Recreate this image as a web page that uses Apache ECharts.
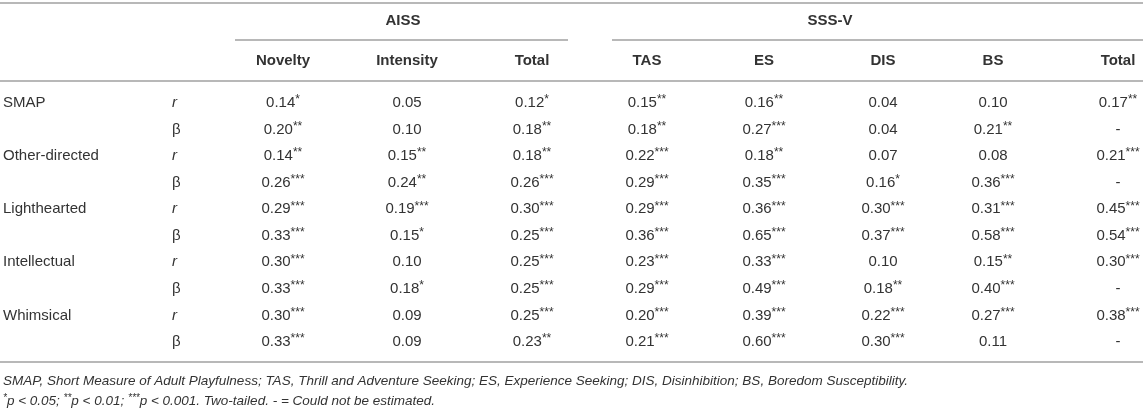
<!DOCTYPE html>
<html>
<head>
<meta charset="utf-8">
<script src="https://cdn.jsdelivr.net/npm/echarts@6/dist/echarts.min.js"></script>
<style>
  html, body { margin: 0; padding: 0; background: #fff; }
  #main { width: 1143px; height: 410px; }
</style>
</head>
<body>
<div id="main"></div>
<script>
// table headers
var groups = ['AISS', 'SSS-V'];
var columns = ['Novelty', 'Intensity', 'Total', 'TAS', 'ES', 'DIS', 'BS', 'Total'];
var scales = ['SMAP', 'Other-directed', 'Lighthearted', 'Intellectual', 'Whimsical'];
var stats = ['r', 'β'];

// coefficients, one array per row ("-" = could not be estimated)
var smapR = ['0.14*', '0.05', '0.12*', '0.15**', '0.16**', '0.04', '0.10', '0.17**'];
var smapB = ['0.20**', '0.10', '0.18**', '0.18**', '0.27***', '0.04', '0.21**', '-'];
var otherR = ['0.14**', '0.15**', '0.18**', '0.22***', '0.18**', '0.07', '0.08', '0.21***'];
var otherB = ['0.26***', '0.24**', '0.26***', '0.29***', '0.35***', '0.16*', '0.36***', '-'];
var lightR = ['0.29***', '0.19***', '0.30***', '0.29***', '0.36***', '0.30***', '0.31***', '0.45***'];
var lightB = ['0.33***', '0.15*', '0.25***', '0.36***', '0.65***', '0.37***', '0.58***', '0.54***'];
var intelR = ['0.30***', '0.10', '0.25***', '0.23***', '0.33***', '0.10', '0.15**', '0.30***'];
var intelB = ['0.33***', '0.18*', '0.25***', '0.29***', '0.49***', '0.18**', '0.40***', '-'];
var whimR = ['0.30***', '0.09', '0.25***', '0.20***', '0.39***', '0.22***', '0.27***', '0.38***'];
var whimB = ['0.33***', '0.09', '0.23**', '0.21***', '0.60***', '0.30***', '0.11', '-'];
var rows = [smapR, smapB, otherR, otherB, lightR, lightB, intelR, intelB, whimR, whimB];

var note1 = 'SMAP, Short Measure of Adult Playfulness; TAS, Thrill and Adventure Seeking; ES, Experience Seeking; DIS, Disinhibition; BS, Boredom Susceptibility.';
var note2 = ['*', 'p < 0.05; ', '**', 'p < 0.01; ', '***', 'p < 0.001. Two-tailed. - = Could not be estimated.'];

// layout, in page pixels
var W = 1143, H = 410;
var colX = [283, 407, 532, 647, 764, 883, 993, 1118];
var groupX = [403, 830];
var groupLine = [[235, 568], [612, 1143]];
var statX = 172, labelX = 3;
var rowY0 = 103, rowStep = 26.55;

var TXT = '#333';
var LINE = '#b8b8b8';
var FONT = '"Liberation Sans", Arial, sans-serif';

function rich(v) {
  var m = v.match(/^([^*]*)(\**)$/);
  return '{n|' + m[1] + '}' + (m[2] ? '{s|' + m[2] + '}' : '');
}

var richStyle = {
  n: { fontSize: 15, fontFamily: FONT, fill: TXT, lineHeight: 18, verticalAlign: 'middle' },
  s: { fontSize: 12, fontFamily: FONT, fill: TXT, lineHeight: 18, verticalAlign: 'top', padding: [0, 0, 7, 0] },
  i: { fontSize: 13.5, fontFamily: FONT, fontStyle: 'italic', fill: TXT, lineHeight: 16 },
  is: { fontSize: 10, fontFamily: FONT, fontStyle: 'italic', fill: TXT, lineHeight: 16, verticalAlign: 'top', padding: [0, 0, 6, 0] }
};

// all text cells
var cells = [];
groups.forEach(function (g, i) {
  cells.push({ x: groupX[i], y: 21, text: g, align: 'center', weight: 'bold' });
});
columns.forEach(function (c, i) {
  cells.push({ x: colX[i], y: 61, text: c, align: 'center', weight: 'bold' });
});
rows.forEach(function (r, ri) {
  var y = rowY0 + ri * rowStep;
  if (ri % 2 === 0) cells.push({ x: labelX, y: y, text: scales[ri / 2], align: 'left' });
  var st = stats[ri % 2];
  cells.push({ x: statX, y: y, text: st, align: 'left', italic: st === 'r' });
  r.forEach(function (v, ci) {
    cells.push({ x: colX[ci], y: y, rich: rich(v), align: 'center' });
  });
});
cells.push({ x: labelX, y: 381, rich: '{i|' + note1 + '}', align: 'left' });
cells.push({
  x: labelX, y: 401, align: 'left',
  rich: note2.map(function (t, i) { return (i % 2 ? '{i|' : '{is|') + t + '}'; }).join('')
});

// horizontal rules: [x1, x2, y]
var rules = [[0, W, 3], [groupLine[0][0], groupLine[0][1], 40], [groupLine[1][0], groupLine[1][1], 40], [0, W, 81], [0, W, 362]];

var chart = echarts.init(document.getElementById('main'));
chart.setOption({
  animation: false,
  grid: { left: 0, right: 0, top: 0, bottom: 0 },
  xAxis: { type: 'value', min: 0, max: W, show: false },
  yAxis: { type: 'value', min: 0, max: H, inverse: true, show: false },
  series: [
    {
      type: 'custom',
      data: rules,
      renderItem: function (params, api) {
        var a = api.coord([api.value(0), api.value(2)]);
        var b = api.coord([api.value(1), api.value(2)]);
        return { type: 'line', shape: { x1: a[0], y1: a[1], x2: b[0], y2: b[1] }, style: { stroke: LINE, lineWidth: 2 } };
      }
    },
    {
      type: 'custom',
      data: cells.map(function (c) { return [c.x, c.y]; }),
      renderItem: function (params, api) {
        var c = cells[params.dataIndex];
        var p = api.coord([api.value(0), api.value(1)]);
        var style = { align: c.align, verticalAlign: 'middle', fill: TXT };
        if (c.rich) {
          style.text = c.rich;
          style.rich = richStyle;
        } else {
          style.text = c.text;
          style.fontSize = 15;
          style.fontFamily = FONT;
          style.fontWeight = c.weight || 'normal';
          style.fontStyle = c.italic ? 'italic' : 'normal';
        }
        return { type: 'text', x: p[0], y: p[1], style: style };
      }
    }
  ]
});
</script>
</body>
</html>
